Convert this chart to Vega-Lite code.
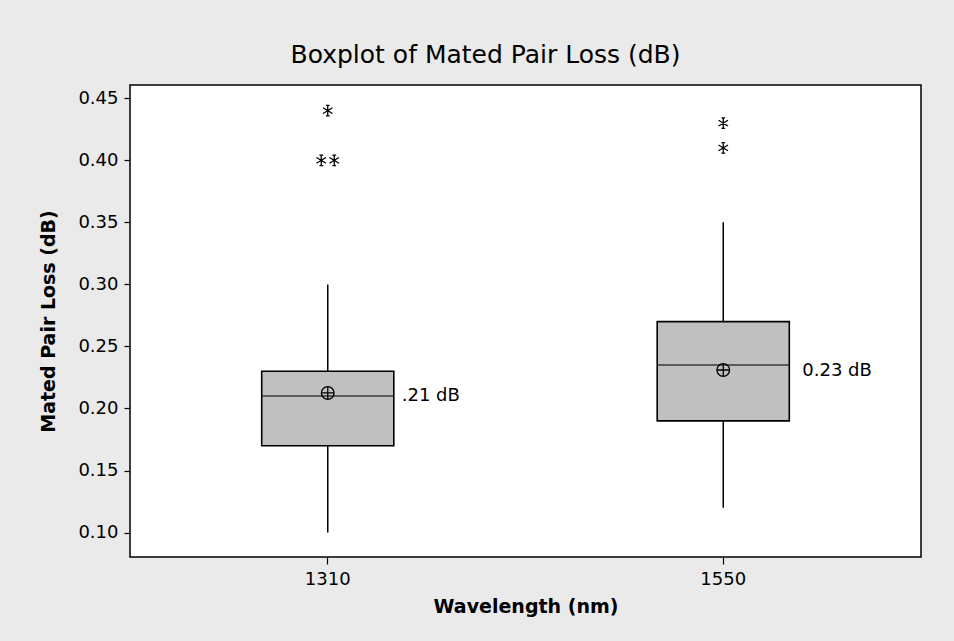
{
  "$schema": "https://vega.github.io/schema/vega-lite/v6.json",
  "width": 791,
  "height": 472,
  "autosize": {"type": "none"},
  "padding": {"left": 130, "top": 85, "right": 33, "bottom": 84},
  "background": "#EAEAEA",
  "title": {
    "text": "Boxplot of Mated Pair Loss (dB)",
    "font": "DejaVu Sans",
    "fontSize": 25,
    "fontWeight": "normal",
    "color": "black",
    "anchor": "middle",
    "baseline": "alphabetic",
    "offset": 22,
    "dx": -40,
    "dy": 25
  },
  "config": {
    "view": {"stroke": "black", "strokeWidth": 1.5, "fill": "white"},
    "font": "DejaVu Sans",
    "axis": {
      "grid": false,
      "domain": false,
      "tickColor": "black",
      "tickWidth": 1.2,
      "labelColor": "black",
      "labelFont": "DejaVu Sans",
      "labelFontSize": 18,
      "titleFont": "DejaVu Sans",
      "titleFontSize": 19,
      "titleFontWeight": "bold",
      "titleColor": "black"
    }
  },
  "datasets": {
    "boxes": [
      {"wavelength": "1310", "lo": 0.10, "q1": 0.17, "median": 0.21, "q3": 0.23, "hi": 0.30, "mean": 0.2125, "label": ".21 dB"},
      {"wavelength": "1550", "lo": 0.12, "q1": 0.19, "median": 0.235, "q3": 0.27, "hi": 0.35, "mean": 0.231, "label": "0.23 dB"}
    ],
    "outliers": [
      {"wavelength": "1310", "loss": 0.44, "tie": 0},
      {"wavelength": "1310", "loss": 0.40, "tie": 1},
      {"wavelength": "1310", "loss": 0.40, "tie": 2},
      {"wavelength": "1550", "loss": 0.43, "tie": 0},
      {"wavelength": "1550", "loss": 0.41, "tie": 0}
    ]
  },
  "encoding": {
    "x": {
      "field": "wavelength",
      "type": "nominal",
      "title": "Wavelength (nm)",
      "scale": {"type": "band", "domain": ["1310", "1550"], "paddingInner": 0, "paddingOuter": 0},
      "axis": {"labelAngle": 0, "tickSize": 7, "labelPadding": 6, "titlePadding": 9}
    }
  },
  "layer": [
    {
      "data": {"name": "boxes"},
      "mark": {"type": "rule", "stroke": "black", "strokeWidth": 1.5},
      "encoding": {
        "y": {
          "field": "lo",
          "type": "quantitative",
          "title": "Mated Pair Loss (dB)",
          "scale": {"domain": [0.0803, 0.4607], "nice": false, "zero": false},
          "axis": {
            "values": [0.10, 0.15, 0.20, 0.25, 0.30, 0.35, 0.40, 0.45],
            "format": ".2f",
            "tickSize": 6,
            "labelPadding": 6,
            "titlePadding": 19
          }
        },
        "y2": {"field": "hi"}
      }
    },
    {
      "data": {"name": "boxes"},
      "mark": {"type": "bar", "fill": "#C0C0C0", "stroke": "black", "strokeWidth": 1.6, "width": {"band": 0.334}},
      "encoding": {
        "y": {"field": "q1", "type": "quantitative"},
        "y2": {"field": "q3"}
      }
    },
    {
      "data": {"name": "boxes"},
      "mark": {"type": "tick", "orient": "horizontal", "color": "black", "size": 132, "thickness": 1.5},
      "encoding": {
        "y": {"field": "median", "type": "quantitative"}
      }
    },
    {
      "data": {"name": "boxes"},
      "mark": {
        "type": "point",
        "shape": "M-1,0A1,1 0 1,0 1,0A1,1 0 1,0 -1,0M-1,0L1,0M0,-1L0,1",
        "filled": false,
        "stroke": "black",
        "strokeWidth": 1.3,
        "size": 160,
        "opacity": 1
      },
      "encoding": {
        "y": {"field": "mean", "type": "quantitative"}
      }
    },
    {
      "data": {"name": "outliers"},
      "transform": [{"filter": "datum.tie == 0"}],
      "mark": {
        "type": "point",
        "shape": "M0,-1L0,1M-0.9,-0.55L0.9,0.55M-0.9,0.55L0.9,-0.55M-0.35,-1L0.35,-1M-0.35,1L0.35,1",
        "filled": false,
        "stroke": "black",
        "strokeWidth": 1.3,
        "size": 110,
        "opacity": 1
      },
      "encoding": {
        "y": {"field": "loss", "type": "quantitative"}
      }
    },
    {
      "data": {"name": "outliers"},
      "transform": [{"filter": "datum.tie == 1"}],
      "mark": {
        "type": "point",
        "shape": "M0,-1L0,1M-0.9,-0.55L0.9,0.55M-0.9,0.55L0.9,-0.55M-0.35,-1L0.35,-1M-0.35,1L0.35,1",
        "filled": false,
        "stroke": "black",
        "strokeWidth": 1.3,
        "size": 110,
        "opacity": 1,
        "xOffset": -6.5
      },
      "encoding": {
        "y": {"field": "loss", "type": "quantitative"}
      }
    },
    {
      "data": {"name": "outliers"},
      "transform": [{"filter": "datum.tie == 2"}],
      "mark": {
        "type": "point",
        "shape": "M0,-1L0,1M-0.9,-0.55L0.9,0.55M-0.9,0.55L0.9,-0.55M-0.35,-1L0.35,-1M-0.35,1L0.35,1",
        "filled": false,
        "stroke": "black",
        "strokeWidth": 1.3,
        "size": 110,
        "opacity": 1,
        "xOffset": 6.5
      },
      "encoding": {
        "y": {"field": "loss", "type": "quantitative"}
      }
    },
    {
      "data": {"name": "boxes"},
      "transform": [{"filter": "datum.wavelength == '1310'"}],
      "mark": {"type": "text", "align": "left", "baseline": "middle", "dx": 74, "dy": 3, "fontSize": 18, "color": "black"},
      "encoding": {
        "y": {"field": "mean", "type": "quantitative"},
        "text": {"field": "label"}
      }
    },
    {
      "data": {"name": "boxes"},
      "transform": [{"filter": "datum.wavelength == '1550'"}],
      "mark": {"type": "text", "align": "left", "baseline": "middle", "dx": 79, "dy": 1, "fontSize": 18, "color": "black"},
      "encoding": {
        "y": {"field": "mean", "type": "quantitative"},
        "text": {"field": "label"}
      }
    }
  ]
}
